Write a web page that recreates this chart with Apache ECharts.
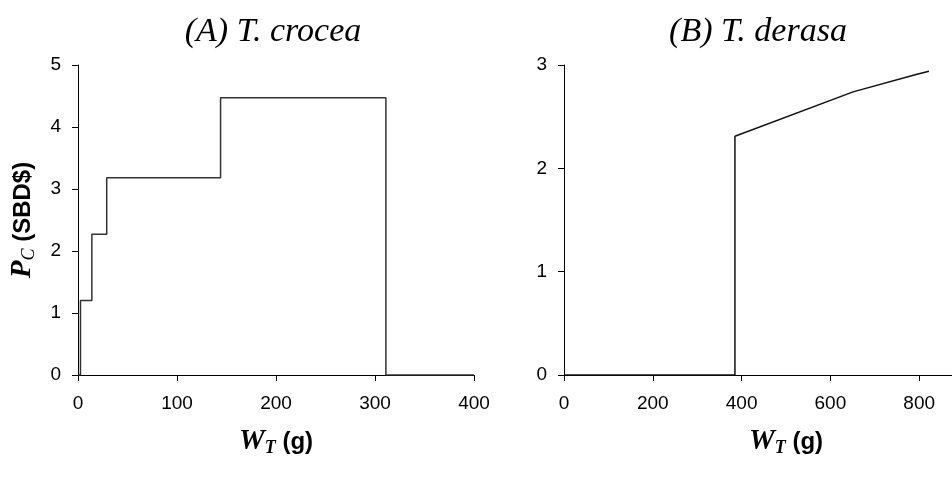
<!DOCTYPE html>
<html><head><meta charset="utf-8">
<script src="https://cdn.jsdelivr.net/npm/echarts@6/dist/echarts.min.js"></script>
<style>html,body{margin:0;padding:0;background:#fff}#c{width:952px;height:487px}</style>
</head><body><div id="c"></div>
<script>
// Panel A: T. crocea step curve (W_T g, P_C SBD$)
const croceaW = [0, 2.5, 2.5, 14, 14, 29, 29, 144, 144, 311, 311, 400];
const croceaP = [0, 0, 1.2, 1.2, 2.27, 2.27, 3.18, 3.18, 4.47, 4.47, 0, 0];
// Panel B: T. derasa
const derasaW = [0, 385, 385, 651, 795, 822];
const derasaP = [0, 0, 2.31, 2.74, 2.91, 2.94];
const xTicksA = [0, 100, 200, 300, 400];
const yTicksA = [0, 1, 2, 3, 4, 5];
const xTicksB = [0, 200, 400, 600, 800, 1000];
const yTicksB = [0, 1, 2, 3];
const titles = ['(A) T. crocea', '(B) T. derasa'];

const chart = echarts.init(document.getElementById('c'));
const lbl = {color:'#000', fontFamily:'Liberation Sans, Arial', fontSize:19};
const axLine = {lineStyle:{color:'#000', width:1}};
const tick = {show:true, inside:false, length:6, lineStyle:{color:'#000', width:1}};
const xName = '{w|W}{t|T}{g| (g)}';
const xNameStyle = {rich:{
  w:{fontFamily:'Liberation Serif, Times New Roman', fontStyle:'italic', fontWeight:'bold', fontSize:29, color:'#000'},
  t:{fontFamily:'Liberation Serif, Times New Roman', fontStyle:'italic', fontWeight:'bold', fontSize:18, color:'#000', padding:[12,0,0,0]},
  g:{fontFamily:'Liberation Sans, Arial', fontWeight:'bold', fontSize:24, color:'#000'}
}};
const yName = '{p|P}{c|C}{s| (SBD$)}';
const yNameStyle = {rich:{
  p:{fontFamily:'Liberation Serif, Times New Roman', fontStyle:'italic', fontWeight:'bold', fontSize:29, color:'#000'},
  c:{fontFamily:'Liberation Serif, Times New Roman', fontStyle:'italic', fontSize:18, color:'#000', padding:[12,0,0,0]},
  s:{fontFamily:'Liberation Sans, Arial', fontWeight:'bold', fontSize:24, color:'#000'}
}};
const titleStyle = {fontFamily:'Liberation Serif, Times New Roman', fontStyle:'italic', fontWeight:'normal', fontSize:34, color:'#000'};

function pairs(xs, ys){ return xs.map((x,i)=>[x, ys[i]]); }

chart.setOption({
  animation:false,
  backgroundColor:'#fff',
  title:[
    {text:titles[0], left:268, top:10, textAlign:'center', textStyle:titleStyle},
    {text:titles[1], left:753, top:10, textAlign:'center', textStyle:titleStyle}
  ],
  grid:[
    {left:78, top:65, width:396, height:310, outerBoundsMode:'none', containLabel:false},
    {left:564, top:65, width:444, height:310, outerBoundsMode:'none', containLabel:false}
  ],
  xAxis:[
    {gridIndex:0, type:'value', min:xTicksA[0], max:xTicksA[xTicksA.length-1], interval:100,
     axisLine:axLine, axisTick:tick, axisLabel:Object.assign({margin:19}, lbl), splitLine:{show:false},
     name:xName, nameLocation:'middle', nameGap:52, nameTextStyle:xNameStyle},
    {gridIndex:1, type:'value', min:xTicksB[0], max:xTicksB[xTicksB.length-1], interval:200,
     axisLine:axLine, axisTick:tick, axisLabel:Object.assign({margin:19}, lbl), splitLine:{show:false},
     name:xName, nameLocation:'middle', nameGap:52, nameTextStyle:xNameStyle}
  ],
  yAxis:[
    {gridIndex:0, type:'value', min:yTicksA[0], max:yTicksA[yTicksA.length-1], interval:1,
     axisLine:Object.assign({show:true}, axLine), axisTick:tick, axisLabel:Object.assign({margin:17}, lbl), splitLine:{show:false},
     name:yName, nameLocation:'middle', nameRotate:90, nameGap:40, nameTextStyle:yNameStyle},
    {gridIndex:1, type:'value', min:yTicksB[0], max:yTicksB[yTicksB.length-1], interval:1,
     axisLine:Object.assign({show:true}, axLine), axisTick:tick, axisLabel:Object.assign({margin:17}, lbl), splitLine:{show:false}}
  ],
  series:[
    {type:'line', xAxisIndex:0, yAxisIndex:0, data:pairs(croceaW, croceaP), showSymbol:false, symbol:'none',
     lineStyle:{color:'#333', width:1.5}},
    {type:'line', xAxisIndex:1, yAxisIndex:1, data:pairs(derasaW, derasaP), showSymbol:false, symbol:'none',
     lineStyle:{color:'#111', width:1.5}}
  ]
});
</script></body></html>
